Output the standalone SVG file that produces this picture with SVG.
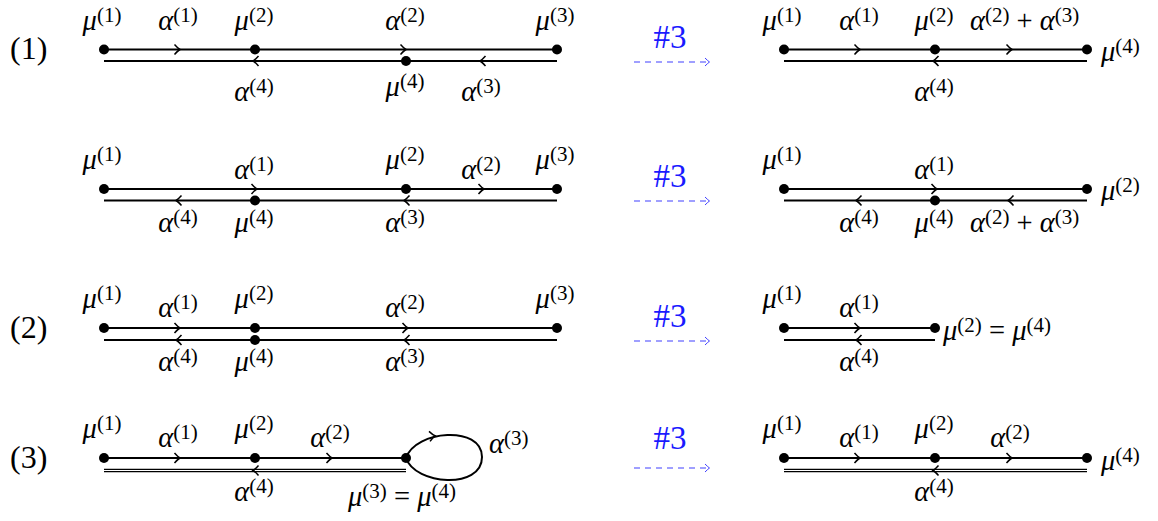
<svg xmlns="http://www.w3.org/2000/svg" width="1158" height="521" viewBox="0 0 1158 521">
<style>
text,tspan{font-family:'Liberation Serif',serif}
.t{font-size:28.5px;fill:#000}
.c{text-anchor:middle}
.i{font-style:italic}
.s{font-size:21px}
.n{fill:#000}
.ln{stroke:#000;stroke-width:2;fill:none}
.dbl{stroke:#000;stroke-width:3.6;fill:none}
.dblw{stroke:#fff;stroke-width:1.1;fill:none}
.ch{stroke:#000;stroke-width:1.5;fill:none}
.blue{fill:#1a1aff;font-size:33px}
.da{stroke:#4040ff;stroke-width:1.1;stroke-dasharray:6 5;fill:none}
.dah{stroke:#4040ff;stroke-width:1;fill:none}
.lab{font-size:32px;fill:#000}
</style>
<defs>
<path id="cr" class="ch" d="M-3.5,-5 Q0,-1 2,0 Q0,1 -3.5,5"/>
<path id="cl" class="ch" d="M3.5,-5 Q0,-1 -2,0 Q0,1 3.5,5"/>
<path id="dh" class="dah" d="M-3,-4 Q0,-1 1.5,0 Q0,1 -3,4"/>
</defs>
<rect width="1158" height="521" fill="#fff"/>

<!-- row labels -->
<text class="lab" x="10" y="59">(1)</text>
<text class="lab" x="10" y="338">(2)</text>
<text class="lab" x="10" y="468">(3)</text>

<!-- transformation arrows -->
<g id="arrows">
<text class="t blue c" x="670" y="48">#3</text>
<path class="da" d="M634,62 H707"/><use href="#dh" x="708" y="62"/>
<text class="t blue c" x="670" y="187">#3</text>
<path class="da" d="M634,201 H707"/><use href="#dh" x="708" y="201"/>
<text class="t blue c" x="670" y="327">#3</text>
<path class="da" d="M634,341 H707"/><use href="#dh" x="708" y="341"/>
<text class="t blue c" x="670" y="449">#3</text>
<path class="da" d="M634,468 H707"/><use href="#dh" x="708" y="468"/>
</g>

<!-- connectors -->
<g id="connectors">
<!-- row 1 left -->
<path class="ln" d="M104,49.5 H557 M104,61 H557"/>
<use href="#cr" x="178" y="49.5"/><use href="#cr" x="404" y="49.5"/>
<use href="#cl" x="255" y="61"/><use href="#cl" x="482" y="61"/>
<text class="t c" x="178" y="30"><tspan class="i">α</tspan><tspan class="s" dy="-8.5">(1)</tspan></text>
<text class="t c" x="405" y="30"><tspan class="i">α</tspan><tspan class="s" dy="-8.5">(2)</tspan></text>
<text class="t c" x="254" y="101"><tspan class="i">α</tspan><tspan class="s" dy="-8.5">(4)</tspan></text>
<text class="t c" x="481" y="101"><tspan class="i">α</tspan><tspan class="s" dy="-8.5">(3)</tspan></text>
<!-- row 1 right -->
<path class="ln" d="M784,49.5 H1087 M784,61 H1087"/>
<use href="#cr" x="858" y="49.5"/><use href="#cr" x="1010" y="49.5"/>
<use href="#cl" x="935" y="61"/>
<text class="t c" x="859" y="30"><tspan class="i">α</tspan><tspan class="s" dy="-8.5">(1)</tspan></text>
<text class="t" x="970" y="30"><tspan class="i">α</tspan><tspan class="s" dy="-8.5">(2)</tspan><tspan dy="8.5"> + </tspan><tspan class="i">α</tspan><tspan class="s" dy="-8.5">(3)</tspan></text>
<text class="t c" x="934" y="101"><tspan class="i">α</tspan><tspan class="s" dy="-8.5">(4)</tspan></text>

<!-- row 2 left -->
<path class="ln" d="M104,189 H557 M104,200.5 H557"/>
<use href="#cr" x="255" y="189"/><use href="#cr" x="482" y="189"/>
<use href="#cl" x="178" y="200.5"/><use href="#cl" x="406" y="200.5"/>
<text class="t c" x="254" y="179"><tspan class="i">α</tspan><tspan class="s" dy="-8.5">(1)</tspan></text>
<text class="t c" x="481" y="179"><tspan class="i">α</tspan><tspan class="s" dy="-8.5">(2)</tspan></text>
<text class="t c" x="178" y="232"><tspan class="i">α</tspan><tspan class="s" dy="-8.5">(4)</tspan></text>
<text class="t c" x="405" y="232"><tspan class="i">α</tspan><tspan class="s" dy="-8.5">(3)</tspan></text>
<!-- row 2 right -->
<path class="ln" d="M784,189 H1087 M784,200.5 H1087"/>
<use href="#cr" x="935" y="189"/>
<use href="#cl" x="858" y="200.5"/><use href="#cl" x="1010" y="200.5"/>
<text class="t c" x="934" y="179"><tspan class="i">α</tspan><tspan class="s" dy="-8.5">(1)</tspan></text>
<text class="t c" x="859" y="232"><tspan class="i">α</tspan><tspan class="s" dy="-8.5">(4)</tspan></text>
<text class="t" x="970" y="232"><tspan class="i">α</tspan><tspan class="s" dy="-8.5">(2)</tspan><tspan dy="8.5"> + </tspan><tspan class="i">α</tspan><tspan class="s" dy="-8.5">(3)</tspan></text>

<!-- row 3 left -->
<path class="ln" d="M104,328 H557 M104,340 H557"/>
<use href="#cr" x="178" y="328"/><use href="#cr" x="406" y="328"/>
<use href="#cl" x="178" y="340"/><use href="#cl" x="406" y="340"/>
<text class="t c" x="178" y="317"><tspan class="i">α</tspan><tspan class="s" dy="-8.5">(1)</tspan></text>
<text class="t c" x="405" y="317"><tspan class="i">α</tspan><tspan class="s" dy="-8.5">(2)</tspan></text>
<text class="t c" x="178" y="371"><tspan class="i">α</tspan><tspan class="s" dy="-8.5">(4)</tspan></text>
<text class="t c" x="405" y="371"><tspan class="i">α</tspan><tspan class="s" dy="-8.5">(3)</tspan></text>
<!-- row 3 right -->
<path class="ln" d="M784,328 H935 M784,340 H935"/>
<use href="#cr" x="858" y="328"/><use href="#cl" x="858" y="340"/>
<text class="t c" x="859" y="317"><tspan class="i">α</tspan><tspan class="s" dy="-8.5">(1)</tspan></text>
<text class="t c" x="859" y="371"><tspan class="i">α</tspan><tspan class="s" dy="-8.5">(4)</tspan></text>

<!-- row 4 left -->
<path class="ln" d="M104,458 H406"/>
<path class="dbl" d="M104,470.5 H406"/><path class="dblw" d="M104,470.5 H406"/>
<path class="ln" d="M406,458 C415,430 482,425 482,457 C482,490 415,485 406,458"/>
<use href="#cr" x="178" y="458"/><use href="#cr" x="330" y="458"/>
<use href="#cl" x="255" y="470.5"/>
<use href="#cr" transform="translate(433,436) rotate(-6)"/>
<text class="t c" x="178" y="447"><tspan class="i">α</tspan><tspan class="s" dy="-8.5">(1)</tspan></text>
<text class="t c" x="330" y="447"><tspan class="i">α</tspan><tspan class="s" dy="-8.5">(2)</tspan></text>
<text class="t" x="489" y="453"><tspan class="i">α</tspan><tspan class="s" dy="-8.5">(3)</tspan></text>
<text class="t c" x="254" y="501"><tspan class="i">α</tspan><tspan class="s" dy="-8.5">(4)</tspan></text>
<!-- row 4 right -->
<path class="ln" d="M784,458 H1087"/>
<path class="dbl" d="M784,470.5 H1087"/><path class="dblw" d="M784,470.5 H1087"/>
<use href="#cr" x="858" y="458"/><use href="#cr" x="1010" y="458"/>
<use href="#cl" x="935" y="470.5"/>
<text class="t c" x="859" y="447"><tspan class="i">α</tspan><tspan class="s" dy="-8.5">(1)</tspan></text>
<text class="t c" x="1010" y="447"><tspan class="i">α</tspan><tspan class="s" dy="-8.5">(2)</tspan></text>
<text class="t c" x="934" y="501"><tspan class="i">α</tspan><tspan class="s" dy="-8.5">(4)</tspan></text>
</g>

<!-- nodes row 1 left -->
<g id="r1L-mu1"><circle class="n" cx="104" cy="49.5" r="5"/><text class="t c" x="102" y="30"><tspan class="i">μ</tspan><tspan class="s" dy="-8.5">(1)</tspan></text></g>
<g id="r1L-mu2"><circle class="n" cx="255" cy="49.5" r="5"/><text class="t c" x="254" y="30"><tspan class="i">μ</tspan><tspan class="s" dy="-8.5">(2)</tspan></text></g>
<g id="r1L-mu3"><circle class="n" cx="557" cy="49.5" r="5"/><text class="t c" x="555" y="30"><tspan class="i">μ</tspan><tspan class="s" dy="-8.5">(3)</tspan></text></g>
<g id="r1L-mu4"><circle class="n" cx="406" cy="61" r="5"/><text class="t c" x="405" y="96"><tspan class="i">μ</tspan><tspan class="s" dy="-8.5">(4)</tspan></text></g>
<!-- nodes row 1 right -->
<g id="r1R-mu1"><circle class="n" cx="784" cy="49.5" r="5"/><text class="t c" x="782" y="30"><tspan class="i">μ</tspan><tspan class="s" dy="-8.5">(1)</tspan></text></g>
<g id="r1R-mu2"><circle class="n" cx="935" cy="49.5" r="5"/><text class="t c" x="934" y="30"><tspan class="i">μ</tspan><tspan class="s" dy="-8.5">(2)</tspan></text></g>
<g id="r1R-mu4"><circle class="n" cx="1087" cy="49.5" r="5"/><text class="t" x="1101" y="61"><tspan class="i">μ</tspan><tspan class="s" dy="-8.5">(4)</tspan></text></g>

<!-- nodes row 2 left -->
<g id="r2L-mu1"><circle class="n" cx="104" cy="189" r="5"/><text class="t c" x="102" y="169"><tspan class="i">μ</tspan><tspan class="s" dy="-8.5">(1)</tspan></text></g>
<g id="r2L-mu2"><circle class="n" cx="406" cy="189" r="5"/><text class="t c" x="405" y="169"><tspan class="i">μ</tspan><tspan class="s" dy="-8.5">(2)</tspan></text></g>
<g id="r2L-mu3"><circle class="n" cx="557" cy="189" r="5"/><text class="t c" x="555" y="169"><tspan class="i">μ</tspan><tspan class="s" dy="-8.5">(3)</tspan></text></g>
<g id="r2L-mu4"><circle class="n" cx="255" cy="200.5" r="5"/><text class="t c" x="254" y="232"><tspan class="i">μ</tspan><tspan class="s" dy="-8.5">(4)</tspan></text></g>
<!-- nodes row 2 right -->
<g id="r2R-mu1"><circle class="n" cx="784" cy="189" r="5"/><text class="t c" x="782" y="169"><tspan class="i">μ</tspan><tspan class="s" dy="-8.5">(1)</tspan></text></g>
<g id="r2R-mu2"><circle class="n" cx="1087" cy="189" r="5"/><text class="t" x="1101" y="200"><tspan class="i">μ</tspan><tspan class="s" dy="-8.5">(2)</tspan></text></g>
<g id="r2R-mu4"><circle class="n" cx="935" cy="200.5" r="5"/><text class="t c" x="934" y="232"><tspan class="i">μ</tspan><tspan class="s" dy="-8.5">(4)</tspan></text></g>

<!-- nodes row 3 left -->
<g id="r3L-mu1"><circle class="n" cx="104" cy="328" r="5"/><text class="t c" x="102" y="308"><tspan class="i">μ</tspan><tspan class="s" dy="-8.5">(1)</tspan></text></g>
<g id="r3L-mu2"><circle class="n" cx="255" cy="328" r="5"/><text class="t c" x="254" y="308"><tspan class="i">μ</tspan><tspan class="s" dy="-8.5">(2)</tspan></text></g>
<g id="r3L-mu3"><circle class="n" cx="557" cy="328" r="5"/><text class="t c" x="555" y="308"><tspan class="i">μ</tspan><tspan class="s" dy="-8.5">(3)</tspan></text></g>
<g id="r3L-mu4"><circle class="n" cx="255" cy="340" r="5"/><text class="t c" x="254" y="371"><tspan class="i">μ</tspan><tspan class="s" dy="-8.5">(4)</tspan></text></g>
<!-- nodes row 3 right -->
<g id="r3R-mu1"><circle class="n" cx="784" cy="328" r="5"/><text class="t c" x="782" y="308"><tspan class="i">μ</tspan><tspan class="s" dy="-8.5">(1)</tspan></text></g>
<g id="r3R-mu24"><circle class="n" cx="935" cy="328" r="5"/><text class="t" x="943" y="340"><tspan class="i">μ</tspan><tspan class="s" dy="-8.5">(2)</tspan><tspan dy="8.5"> = </tspan><tspan class="i">μ</tspan><tspan class="s" dy="-8.5">(4)</tspan></text></g>

<!-- nodes row 4 left -->
<g id="r4L-mu1"><circle class="n" cx="104" cy="458" r="5"/><text class="t c" x="102" y="438"><tspan class="i">μ</tspan><tspan class="s" dy="-8.5">(1)</tspan></text></g>
<g id="r4L-mu2"><circle class="n" cx="255" cy="458" r="5"/><text class="t c" x="254" y="438"><tspan class="i">μ</tspan><tspan class="s" dy="-8.5">(2)</tspan></text></g>
<g id="r4L-mu34"><circle class="n" cx="406" cy="458" r="5"/><text class="t c" x="402" y="506"><tspan class="i">μ</tspan><tspan class="s" dy="-8.5">(3)</tspan><tspan dy="8.5"> = </tspan><tspan class="i">μ</tspan><tspan class="s" dy="-8.5">(4)</tspan></text></g>
<!-- nodes row 4 right -->
<g id="r4R-mu1"><circle class="n" cx="784" cy="458" r="5"/><text class="t c" x="782" y="438"><tspan class="i">μ</tspan><tspan class="s" dy="-8.5">(1)</tspan></text></g>
<g id="r4R-mu2"><circle class="n" cx="935" cy="458" r="5"/><text class="t c" x="934" y="438"><tspan class="i">μ</tspan><tspan class="s" dy="-8.5">(2)</tspan></text></g>
<g id="r4R-mu4"><circle class="n" cx="1087" cy="458" r="5"/><text class="t" x="1101" y="470"><tspan class="i">μ</tspan><tspan class="s" dy="-8.5">(4)</tspan></text></g>
</svg>
